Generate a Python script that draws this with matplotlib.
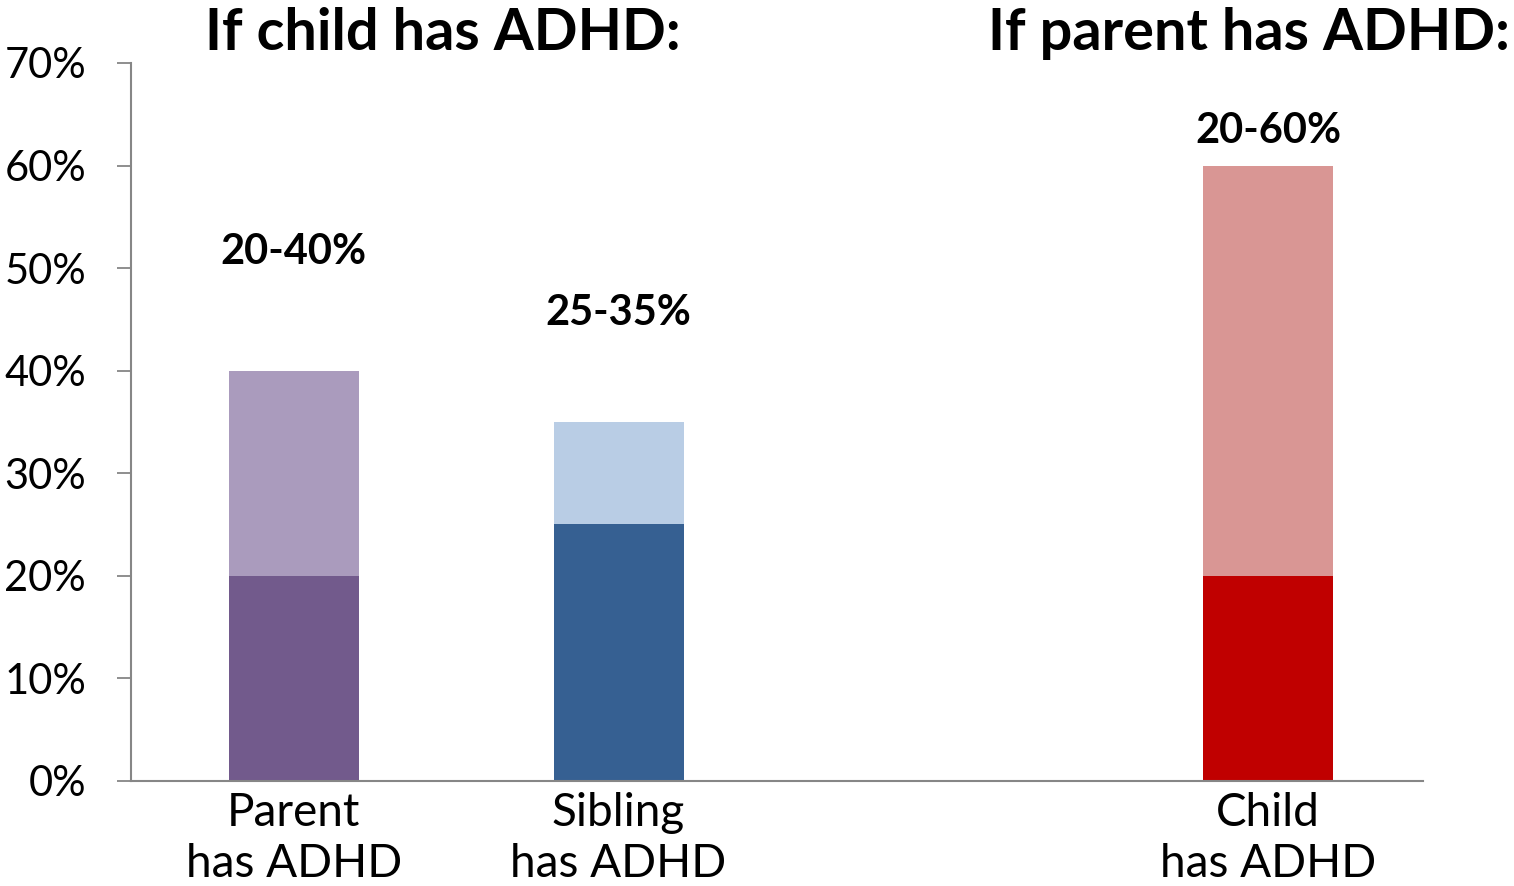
import matplotlib
matplotlib.use("Agg")
import matplotlib.pyplot as plt
from matplotlib.ticker import FuncFormatter

plt.rcParams['font.family'] = ['Lato', 'DejaVu Sans']

# Categories and ranges (fractions of 1)
categories = ["Parent\nhas ADHD", "Sibling\nhas ADHD", "", "Child\nhas ADHD"]
range_low = [0.20, 0.25, 0.0, 0.20]
range_high = [0.40, 0.35, 0.0, 0.60]
range_labels = ["20-40%", "25-35%", "", "20-60%"]
dark_colors = ["#725A8C", "#366092", "#FFFFFF", "#C00000"]
light_colors = ["#AA9BBD", "#B9CDE5", "#FFFFFF", "#D99694"]
y_ticks = [0.0, 0.1, 0.2, 0.3, 0.4, 0.5, 0.6, 0.7]

fig = plt.figure(figsize=(15.14, 8.86), dpi=100)
ax = fig.add_axes([130.5 / 1514, 1 - 780.7 / 886, (1423 - 130.5) / 1514, (780.7 - 63) / 886])

x = list(range(len(categories)))
width = 0.4
low_vals = range_low
span_vals = [h - l for h, l in zip(range_high, range_low)]
for i in x:
    if range_high[i] == 0:
        continue
    ax.bar(i, low_vals[i], width=width, color=dark_colors[i], linewidth=0)
    ax.bar(i, span_vals[i], bottom=low_vals[i], width=width, color=light_colors[i], linewidth=0)

# Range annotations above the bars
label_offsets = [0.116, 0.106, 0.0, 0.034]
for i in x:
    if range_labels[i]:
        ax.text(i, range_high[i] + label_offsets[i], range_labels[i], ha='center', va='center',
                fontsize=30, fontweight='bold', color='black')

ax.set_xlim(-0.503, 3.477)
ax.set_ylim(0, 0.70)
ax.set_yticks(y_ticks)
ax.yaxis.set_major_formatter(FuncFormatter(lambda v, p: f"{v*100:.0f}%"))
ax.set_xticks(x)
ax.set_xticklabels(categories, fontsize=33, linespacing=1.27)
ax.tick_params(axis='x', length=0, pad=8)
ax.tick_params(axis='y', length=10, width=1.3, color='#868686', labelsize=30, pad=22)
for lbl in ax.get_yticklabels():
    lbl.set_horizontalalignment('right')

for s in ['top', 'right']:
    ax.spines[s].set_visible(False)
for s in ['left', 'bottom']:
    ax.spines[s].set_color('#868686')
    ax.spines[s].set_linewidth(1.5)

fig.text(443 / 1514, 1 - 33 / 886, "If child has ADHD:", ha='center', va='center',
         fontsize=41.5, fontweight='bold')
fig.text(1510 / 1514, 1 - 33 / 886, "If parent has ADHD:", ha='right', va='center',
         fontsize=41.5, fontweight='bold')

fig.savefig("out.png", dpi=100, facecolor='white')
